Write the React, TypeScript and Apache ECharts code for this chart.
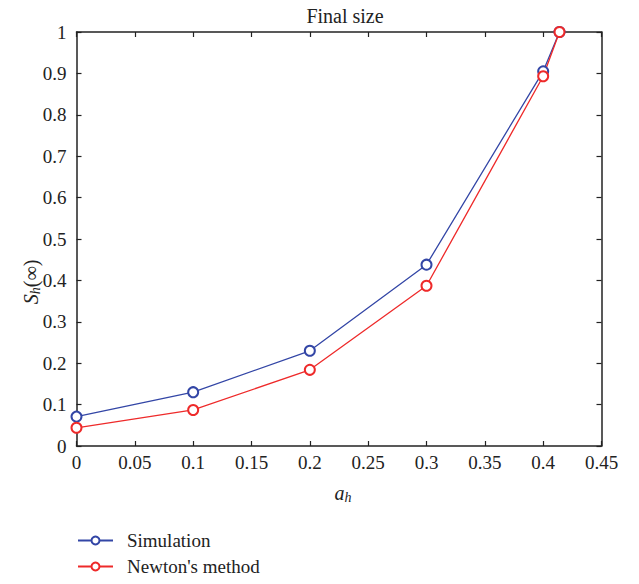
import React, { useEffect, useRef } from "react";
import * as echarts from "echarts";

const xValues = [0, 0.1, 0.2, 0.3, 0.4, 0.414];
const simulation = [0.071, 0.13, 0.23, 0.438, 0.905, 1.0];
const newton = [0.044, 0.087, 0.184, 0.387, 0.893, 1.0];
const seriesNames = ["Simulation", "Newton's method"];
const titleText = "Final size";

const FONT = "Liberation Serif";

export default function App() {
  const ref = useRef<HTMLDivElement>(null);
  useEffect(() => {
    if (!ref.current) return;
    const chart = echarts.init(ref.current, undefined, { renderer: "svg" });
    const axisCommon = {
      type: "value" as const,
      axisLine: { show: true, onZero: false, lineStyle: { color: "#222", width: 1.5 } },
      axisTick: { show: true, inside: true, length: 5, lineStyle: { color: "#222", width: 1.2 } },
      splitLine: { show: false },
    };
    const labelStyle = { color: "#222", fontFamily: FONT, fontSize: 19 };
    chart.setOption({
      animation: false,
      backgroundColor: "#fff",
      textStyle: { fontFamily: FONT },
      title: {
        text: titleText,
        left: 340,
        top: 1,
        textAlign: "center",
        textStyle: { fontFamily: FONT, fontSize: 20, fontWeight: "normal", color: "#222" },
      },
      grid: { left: 76.5, right: 37.5, top: 32, bottom: 138, containLabel: false },
      xAxis: [
        {
          ...axisCommon,
          position: "bottom",
          min: 0,
          max: 0.45,
          interval: 0.05,
          axisLabel: { ...labelStyle, margin: 7, formatter: (v: number) => String(+v.toFixed(2)) },
        },
        {
          ...axisCommon,
          position: "top",
          min: 0,
          max: 0.45,
          interval: 0.05,
          axisLabel: { show: false },
        },
      ],
      yAxis: [
        {
          ...axisCommon,
          position: "left",
          min: 0,
          max: 1,
          interval: 0.1,
          axisLabel: { ...labelStyle, margin: 10, formatter: (v: number) => String(+v.toFixed(1)) },
        },
        {
          ...axisCommon,
          position: "right",
          min: 0,
          max: 1,
          interval: 0.1,
          axisLabel: { show: false },
        },
      ],
      legend: {
        orient: "vertical",
        left: 72,
        top: 526,
        itemWidth: 35,
        itemHeight: 10,
        itemGap: 7,
        data: seriesNames,
        textStyle: { fontFamily: FONT, fontSize: 19, color: "#222", padding: [0, 0, 0, 9] },
      },
      graphic: [
        {
          type: "text",
          x: 31,
          y: 282,
          rotation: Math.PI / 2,
          style: {
            text: "{s|S}{h|h}{p|(∞)}",
            align: "center",
            verticalAlign: "middle",
            rich: {
              s: { fontFamily: FONT, fontStyle: "italic", fontSize: 20, fill: "#222" },
              h: { fontFamily: FONT, fontStyle: "italic", fontSize: 14, fill: "#222", padding: [8, 0, 0, 0] },
              p: { fontFamily: FONT, fontSize: 20, fill: "#222" },
            },
          },
        },
        {
          type: "text",
          x: 343,
          y: 493,
          style: {
            text: "{a|a}{h|h}",
            align: "center",
            verticalAlign: "middle",
            rich: {
              a: { fontFamily: FONT, fontStyle: "italic", fontSize: 20, fill: "#222" },
              h: { fontFamily: FONT, fontStyle: "italic", fontSize: 14, fill: "#222", padding: [8, 0, 0, 0] },
            },
          },
        },
      ],
      series: [
        {
          name: seriesNames[0],
          type: "line",
          xAxisIndex: 0,
          yAxisIndex: 0,
          data: xValues.map((x, i) => [x, simulation[i]]),
          symbol: "emptyCircle",
          symbolSize: 10,
          color: "#3346a6",
          lineStyle: { width: 1.3, color: "#3346a6" },
          itemStyle: { color: "#3346a6", borderWidth: 1.2 },
        },
        {
          name: seriesNames[1],
          type: "line",
          xAxisIndex: 0,
          yAxisIndex: 0,
          data: xValues.map((x, i) => [x, newton[i]]),
          symbol: "emptyCircle",
          symbolSize: 10,
          color: "#ee2a2a",
          lineStyle: { width: 1.3, color: "#ee2a2a" },
          itemStyle: { color: "#ee2a2a", borderWidth: 1.2 },
        },
      ],
    });
    return () => chart.dispose();
  }, []);
  return <div ref={ref} style={{ width: 639, height: 584, position: "absolute", left: 0, top: 0 }} />;
}
